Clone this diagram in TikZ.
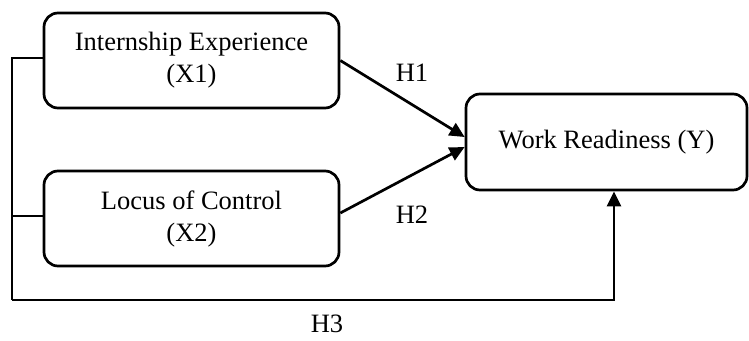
\documentclass[tikz,border=0pt]{standalone}
\usepackage{fontspec}
\setmainfont{Liberation Serif}
\usetikzlibrary{arrows.meta,calc}
\begin{document}
\begin{tikzpicture}[x=1pt,y=-1pt,
  box/.style={draw,line width=2.7pt,rounded corners=14pt,align=center,
    font=\fontsize{26.5}{32}\selectfont,inner sep=0pt},
  conn/.style={line width=2.7pt},
  arr/.style={line width=2.7pt,-{Triangle[length=15pt,width=14pt]}},
  lbl/.style={font=\fontsize{26.5}{32}\selectfont,inner sep=0pt}]
\useasboundingbox (0,0) rectangle (749,340);
\node[box,minimum width=295pt,minimum height=95pt] (X1) at (191.5,60.5) {Internship Experience\\(X1)};
\node[box,minimum width=295pt,minimum height=95pt] (X2) at (191.5,218.5) {Locus of Control\\(X2)};
\node[box,minimum width=281pt,minimum height=96pt] (Y) at (606.5,142) {Work Readiness (Y)};
\coordinate (TL) at (12,58);
\coordinate (ML) at (12,216);
\coordinate (BL) at (12,300);
\draw[conn] ([yshift=2.5pt]X1.west) -- (TL) -- (BL);
\draw[conn] ([yshift=2.5pt]X2.west) -- (ML);
\draw[arr] (BL) -| ([xshift=7.5pt]Y.south);
\draw[arr] (X1.east) -- ([yshift=5pt]Y.west);
\draw[arr] ([yshift=5.5pt]X2.east) -- ([yshift=-5pt]Y.west);
\node[lbl] (H1) at (412,73) {H1};
\node[lbl] (H2) at (412,215) {H2};
\node[lbl] (H3) at (327,324) {H3};
\end{tikzpicture}
\end{document}
